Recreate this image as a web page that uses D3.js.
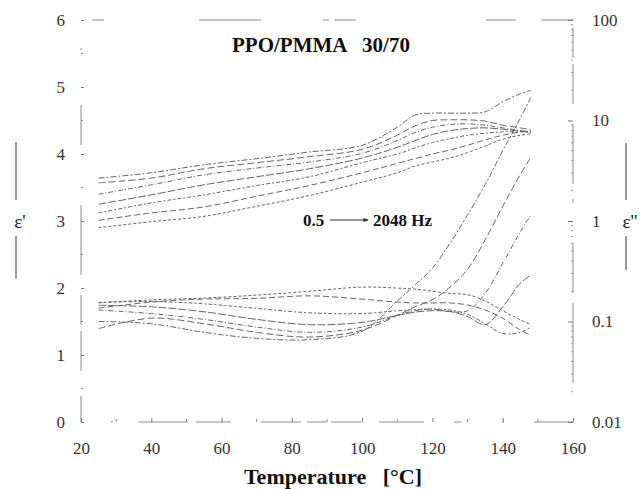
<!DOCTYPE html>
<html>
<head>
<meta charset="utf-8">
<script src="https://cdn.jsdelivr.net/npm/d3@7"></script>
<style>
  body { margin: 0; background: #fff; }
  svg text { font-family: "Liberation Serif", "Times New Roman", serif; }
</style>
</head>
<body>
<div id="chart"></div>
<script>
// temperatures (°C) at which the curves were read
const temps = [25, 40, 55, 70, 85, 100, 110, 115, 120, 125, 130, 135, 140, 145, 148];
const freqs = ["0.5", "2", "8", "32", "128", "512", "2048"];

// eps' (left axis), one array per frequency, 0.5 Hz first
const epsReal05 = [3.64, 3.72, 3.84, 3.93, 4.03, 4.13, 4.40, 4.58, 4.61, 4.61, 4.61, 4.63, 4.78, 4.90, 4.95];
const epsReal2 = [3.57, 3.64, 3.78, 3.87, 3.96, 4.07, 4.28, 4.42, 4.50, 4.51, 4.51, 4.49, 4.43, 4.39, 4.36];
const epsReal8 = [3.40, 3.54, 3.69, 3.79, 3.88, 4.01, 4.20, 4.32, 4.40, 4.44, 4.45, 4.43, 4.39, 4.35, 4.33];
const epsReal32 = [3.25, 3.39, 3.54, 3.66, 3.78, 3.94, 4.10, 4.20, 4.29, 4.35, 4.38, 4.39, 4.37, 4.34, 4.32];
const epsReal128 = [3.12, 3.27, 3.39, 3.53, 3.66, 3.87, 4.00, 4.09, 4.17, 4.23, 4.28, 4.31, 4.33, 4.33, 4.33];
const epsReal512 = [3.01, 3.12, 3.21, 3.37, 3.53, 3.72, 3.86, 3.93, 4.00, 4.06, 4.13, 4.21, 4.28, 4.33, 4.35];
const epsReal2048 = [2.90, 2.99, 3.07, 3.22, 3.38, 3.58, 3.72, 3.82, 3.88, 3.94, 4.02, 4.12, 4.22, 4.28, 4.30];

// eps'' (right log axis)
const epsLoss05 = [0.100, 0.095, 0.078, 0.068, 0.066, 0.080, 0.160, 0.230, 0.340, 0.60, 1.15, 2.3, 5.0, 10.5, 17];
const epsLoss2 = [0.085, 0.108, 0.095, 0.078, 0.070, 0.082, 0.115, 0.140, 0.165, 0.22, 0.33, 0.65, 1.4, 2.9, 4.3];
const epsLoss8 = [0.130, 0.120, 0.105, 0.088, 0.078, 0.088, 0.115, 0.128, 0.133, 0.125, 0.128, 0.19, 0.38, 0.78, 1.15];
const epsLoss32 = [0.145, 0.140, 0.125, 0.105, 0.093, 0.098, 0.115, 0.124, 0.128, 0.126, 0.112, 0.093, 0.14, 0.24, 0.29];
const epsLoss128 = [0.155, 0.158, 0.150, 0.135, 0.122, 0.120, 0.128, 0.131, 0.133, 0.130, 0.118, 0.095, 0.076, 0.078, 0.088];
const epsLoss512 = [0.136, 0.156, 0.167, 0.170, 0.180, 0.167, 0.156, 0.153, 0.153, 0.153, 0.146, 0.130, 0.108, 0.082, 0.073];
const epsLoss2048 = [0.153, 0.164, 0.171, 0.183, 0.200, 0.220, 0.215, 0.210, 0.200, 0.190, 0.185, 0.160, 0.128, 0.104, 0.093];

const epsRealSeries = [epsReal05, epsReal2, epsReal8, epsReal32, epsReal128, epsReal512, epsReal2048];
const epsLossSeries = [epsLoss05, epsLoss2, epsLoss8, epsLoss32, epsLoss128, epsLoss512, epsLoss2048];

const xTicks = [20, 40, 60, 80, 100, 120, 140, 160];
const leftTicks = [0, 1, 2, 3, 4, 5, 6];
const rightTicks = [0.01, 0.1, 1, 10, 100];

const width = 642, height = 489;
const serif = "Liberation Serif, Times New Roman, serif";
const svg = d3.select("#chart").append("svg")
    .attr("width", width)
    .attr("height", height)
    .attr("font-family", serif);

const x = d3.scaleLinear().domain([20, 160]).range([81, 573]);
const yL = d3.scaleLinear().domain([0, 6]).range([422, 20]);
const yR = d3.scaleLog().domain([0.01, 100]).range([422, 20]);

// frame, drawn broken like the scanned original
const frameColor = "#8a8a8a";
svg.append("line").attr("x1", x(20)).attr("x2", x(160)).attr("y1", yL(6)).attr("y2", yL(6))
    .attr("stroke", frameColor).attr("stroke-dasharray", "0,11,12,95,62,62,6,5,22,130,30,25,22")
    .attr("stroke-width", 1);
svg.append("line").attr("x1", x(20)).attr("x2", x(160)).attr("y1", yL(0)).attr("y2", yL(0))
    .attr("stroke", frameColor).attr("stroke-dasharray", "0,30,2,25,50,8,35,30,40,6,20,4,30,18,45,30,8,40,2,30,25")
    .attr("stroke-width", 1);
svg.append("line").attr("x1", x(20)).attr("x2", x(20)).attr("y1", yL(6)).attr("y2", yL(0))
    .attr("stroke", frameColor).attr("stroke-dasharray", "0,28,2,55,40,60,70,20,30,6,40,25,30,40")
    .attr("stroke-width", 1);
svg.append("line").attr("x1", x(160)).attr("x2", x(160)).attr("y1", yR(100)).attr("y2", yR(0.01))
    .attr("stroke", frameColor).attr("stroke-dasharray", "0,8,30,6,40,20,60,15,4,40,50,10,80,30")
    .attr("stroke-width", 1);

// axes
const tickColor = "#333";
const bottom = svg.append("g")
    .attr("transform", `translate(0,${yL(0)})`)
    .call(d3.axisBottom(x).tickValues(xTicks).tickFormat(d3.format("d"))
        .tickSizeInner(-4).tickSizeOuter(0).tickPadding(20));
const left = svg.append("g")
    .attr("transform", `translate(${x(20)},0)`)
    .call(d3.axisLeft(yL).tickValues(leftTicks).tickFormat(d3.format("d"))
        .tickSizeInner(-3).tickSizeOuter(0).tickPadding(16));
const right = svg.append("g")
    .attr("transform", `translate(${x(160)},0)`)
    .call(d3.axisRight(yR).tickValues(rightTicks).tickFormat(d3.format("~g"))
        .tickSizeInner(-5).tickSizeOuter(0).tickPadding(19));

[bottom, left, right].forEach(g => {
    g.attr("font-family", serif).attr("font-size", 17);
    g.select(".domain").remove();
    g.selectAll(".tick line").attr("stroke", "#777");
    g.selectAll(".tick text").attr("fill", tickColor);
});

// minor ticks
svg.append("g").selectAll("line")
    .data(d3.range(0.5, 6, 1))
    .join("line")
    .attr("x1", x(20)).attr("x2", x(20) + 2)
    .attr("y1", d => yL(d)).attr("y2", d => yL(d))
    .attr("stroke", "#888");
svg.append("g").selectAll("line")
    .data(d3.range(30, 160, 20))
    .join("line")
    .attr("x1", d => x(d)).attr("x2", d => x(d))
    .attr("y1", yL(0)).attr("y2", yL(0) - 3)
    .attr("stroke", "#888");
const minorLog = [];
[0.01, 0.1, 1, 10].forEach(dec => { for (let k = 2; k < 10; k++) minorLog.push(dec * k); });
svg.append("g").selectAll("line")
    .data(minorLog)
    .join("line")
    .attr("x1", x(160)).attr("x2", x(160) - 2)
    .attr("y1", d => yR(d)).attr("y2", d => yR(d))
    .attr("stroke", "#999");

// curves
const dashes = ["6,2,2,2", "7,3", "5,2,1,2", "8,2", "4,2,2,2", "6,3", "3,2"];
const lineReal = d3.line()
    .x((d, i) => x(temps[i]))
    .y(d => yL(d))
    .curve(d3.curveCatmullRom.alpha(0.5));
const lineLoss = d3.line()
    .x((d, i) => x(temps[i]))
    .y(d => yR(d))
    .curve(d3.curveCatmullRom.alpha(0.5));

svg.append("g").selectAll("path")
    .data(epsRealSeries)
    .join("path")
    .attr("d", lineReal)
    .attr("fill", "none")
    .attr("stroke", "#666")
    .attr("stroke-width", 1)
    .attr("stroke-dasharray", (d, i) => dashes[i]);

svg.append("g").selectAll("path")
    .data(epsLossSeries)
    .join("path")
    .attr("d", lineLoss)
    .attr("fill", "none")
    .attr("stroke", "#666")
    .attr("stroke-width", 1)
    .attr("stroke-dasharray", (d, i) => dashes[i]);

// title
svg.append("text")
    .attr("x", 232).attr("y", 52)
    .attr("font-size", "21px").attr("font-weight", "bold").attr("fill", "#111")
    .style("white-space", "pre")
    .text("PPO/PMMA   30/70");

// frequency annotation with arrow
svg.append("defs").append("marker")
    .attr("id", "arrowhead")
    .attr("viewBox", "0 0 10 10")
    .attr("refX", 9).attr("refY", 5)
    .attr("markerWidth", 7).attr("markerHeight", 5)
    .attr("orient", "auto")
    .append("path").attr("d", "M0,1 L10,5 L0,9 z").attr("fill", "#222");

svg.append("text")
    .attr("x", 303).attr("y", 226)
    .attr("font-size", "17px").attr("font-weight", "bold").attr("fill", "#111")
    .text(freqs[0]);
svg.append("line")
    .attr("x1", 330).attr("x2", 368).attr("y1", 220).attr("y2", 220)
    .attr("stroke", "#333").attr("stroke-width", 1)
    .attr("marker-end", "url(#arrowhead)");
svg.append("text")
    .attr("x", 373).attr("y", 226)
    .attr("font-size", "17px").attr("font-weight", "bold").attr("fill", "#111")
    .text(freqs[freqs.length - 1] + " Hz");

// axis titles
svg.append("text")
    .attr("x", 333).attr("y", 484)
    .attr("text-anchor", "middle")
    .attr("font-size", "22px").attr("font-weight", "bold").attr("fill", "#111")
    .style("white-space", "pre")
    .text("Temperature   [°C]");

svg.append("text")
    .attr("x", 20).attr("y", 228)
    .attr("text-anchor", "middle")
    .attr("font-size", "19px").attr("fill", "#222")
    .text("ε'");
svg.append("text")
    .attr("x", 630).attr("y", 228)
    .attr("text-anchor", "middle")
    .attr("font-size", "19px").attr("fill", "#222")
    .text("ε''");

// the little bars above and below the axis symbols
const bars = [
    { x: 16, y1: 142, y2: 200 }, { x: 16, y1: 236, y2: 278 },
    { x: 626, y1: 143, y2: 200 }, { x: 626, y1: 236, y2: 270 }
];
svg.append("g").selectAll("line")
    .data(bars)
    .join("line")
    .attr("x1", d => d.x).attr("x2", d => d.x)
    .attr("y1", d => d.y1).attr("y2", d => d.y2)
    .attr("stroke", "#555").attr("stroke-width", 1.2);
</script>
</body>
</html>
